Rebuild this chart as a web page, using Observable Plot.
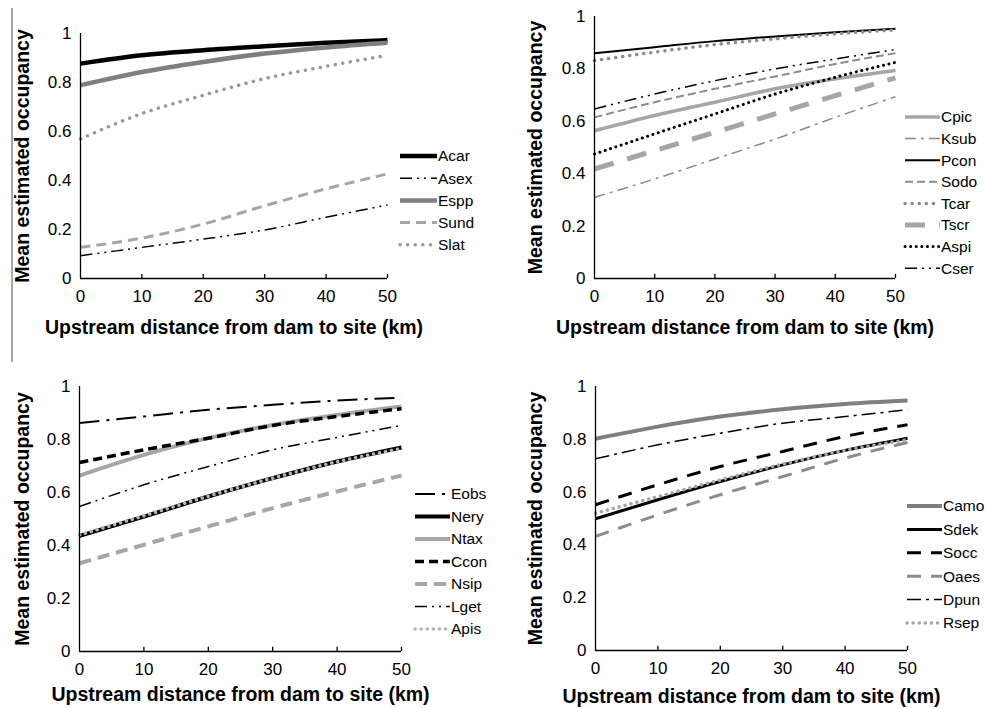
<!DOCTYPE html>
<html>
<head>
<meta charset="utf-8">
<script src="https://cdn.jsdelivr.net/npm/d3@7"></script>
<script src="https://cdn.jsdelivr.net/npm/@observablehq/plot@0.6"></script>
<style>
  html, body { margin: 0; padding: 0; background: #fff; }
  #root { position: relative; width: 986px; height: 708px; background: #fff; overflow: hidden; }
  .panel { position: absolute; }
  #overlay { position: absolute; left: 0; top: 0; pointer-events: none; }
</style>
</head>
<body>
<div id="root"></div>
<script>
// ---------- DATA ----------
const distance = [0, 10, 20, 30, 40, 50];
const xTicks = [0, 10, 20, 30, 40, 50];
const yTicks = [0, 0.2, 0.4, 0.6, 0.8, 1];
const xTitle = "Upstream distance from dam to site (km)";
const yTitle = "Mean estimated occupancy";

const panel1Species = ["Acar", "Asex", "Espp", "Sund", "Slat"];
const panel1Occupancy = [
  [0.877, 0.911, 0.932, 0.948, 0.962, 0.973],
  [0.093, 0.127, 0.161, 0.198, 0.250, 0.300],
  [0.789, 0.843, 0.884, 0.918, 0.943, 0.962],
  [0.127, 0.165, 0.222, 0.297, 0.366, 0.427],
  [0.570, 0.673, 0.748, 0.816, 0.866, 0.911]
];

const panel2Species = ["Cpic", "Ksub", "Pcon", "Sodo", "Tcar", "Tscr", "Aspi", "Cser"];
const panel2Occupancy = [
  [0.564, 0.622, 0.673, 0.724, 0.762, 0.794],
  [0.310, 0.380, 0.456, 0.532, 0.615, 0.694],
  [0.860, 0.883, 0.906, 0.924, 0.940, 0.953],
  [0.615, 0.673, 0.724, 0.771, 0.819, 0.860],
  [0.832, 0.864, 0.893, 0.915, 0.934, 0.949],
  [0.418, 0.488, 0.558, 0.628, 0.698, 0.766],
  [0.475, 0.552, 0.628, 0.704, 0.768, 0.825],
  [0.647, 0.704, 0.755, 0.800, 0.838, 0.874]
];

const panel3Species = ["Eobs", "Nery", "Ntax", "Ccon", "Nsip", "Lget", "Apis"];
const panel3Occupancy = [
  [0.862, 0.887, 0.912, 0.931, 0.947, 0.958],
  [0.436, 0.509, 0.585, 0.654, 0.717, 0.770],
  [0.664, 0.742, 0.805, 0.855, 0.893, 0.925],
  [0.713, 0.761, 0.805, 0.853, 0.887, 0.916],
  [0.333, 0.403, 0.472, 0.541, 0.604, 0.664],
  [0.547, 0.629, 0.698, 0.761, 0.808, 0.853],
  [0.440, 0.512, 0.586, 0.654, 0.716, 0.766]
];

const panel4Species = ["Camo", "Sdek", "Socc", "Oaes", "Dpun", "Rsep"];
const panel4Occupancy = [
  [0.802, 0.848, 0.886, 0.914, 0.934, 0.947],
  [0.499, 0.571, 0.640, 0.703, 0.758, 0.804],
  [0.552, 0.628, 0.697, 0.754, 0.811, 0.855],
  [0.432, 0.514, 0.590, 0.659, 0.729, 0.788],
  [0.726, 0.779, 0.823, 0.861, 0.886, 0.912],
  [0.520, 0.583, 0.646, 0.706, 0.758, 0.798]
];

// ---------- STYLES ----------
const BLACK = "#000", DARK = "#7f7f7f", MID = "#8c8c8c", LIGHT = "#a6a6a6", PALE = "#b4b4b4";
const lineStyles = {
  Acar: {stroke: BLACK, w: 4.5, dash: null},
  Asex: {stroke: BLACK, w: 1.5, dash: "12,5,2,5,2,5"},
  Espp: {stroke: DARK, w: 4.5, dash: null},
  Sund: {stroke: LIGHT, w: 3, dash: "10,6"},
  Slat: {stroke: "#9a9a9a", w: 3.5, dash: "0.1,7.5", round: true},

  Cpic: {stroke: LIGHT, w: 3.5, dash: null},
  Ksub: {stroke: MID, w: 1.5, dash: "11,5,3,5"},
  Pcon: {stroke: BLACK, w: 2, dash: null},
  Sodo: {stroke: MID, w: 2, dash: "8,4"},
  Tcar: {stroke: MID, w: 3.5, dash: "0.1,7", round: true},
  Tscr: {stroke: LIGHT, w: 5, dash: "20,14"},
  Aspi: {stroke: BLACK, w: 3, dash: "0.1,5.5", round: true},
  Cser: {stroke: BLACK, w: 1.5, dash: "12,5,2,5,2,5"},

  Eobs: {stroke: BLACK, w: 2, dash: "20,7,3,7"},
  Nery: {stroke: BLACK, w: 4, dash: null},
  Ntax: {stroke: LIGHT, w: 4, dash: null},
  Ccon: {stroke: BLACK, w: 3.5, dash: "9,5"},
  Nsip: {stroke: LIGHT, w: 4, dash: "12,7"},
  Lget: {stroke: BLACK, w: 1.5, dash: "12,5,2,5,2,5"},
  Apis: {stroke: PALE, w: 3.5, dash: "0.1,6", round: true},

  Camo: {stroke: DARK, w: 4, dash: null},
  Sdek: {stroke: BLACK, w: 3, dash: null},
  Socc: {stroke: BLACK, w: 3, dash: "14,10"},
  Oaes: {stroke: MID, w: 3, dash: "14,10"},
  Dpun: {stroke: BLACK, w: 1.5, dash: "14,5,3,5"},
  Rsep: {stroke: LIGHT, w: 3.5, dash: "0.1,6", round: true}
};

// ---------- LAYOUT ----------
const panels = [
  {species: panel1Species, values: panel1Occupancy, left: 0, top: 0,
   m: {left: 80, right: 106, top: 33, bottom: 76}, yTitleDx: -58, xTitleDy: 49,
   legend: {x: 400, y: 156, step: 22.2, len: 37}},
  {species: panel2Species, values: panel2Occupancy, left: 493, top: 0,
   m: {left: 101, right: 91, top: 16, bottom: 76}, yTitleDx: -59, xTitleDy: 49,
   legend: {x: 905, y: 117, step: 21.6, len: 35}},
  {species: panel3Species, values: panel3Occupancy, left: 0, top: 354,
   m: {left: 79, right: 92, top: 32, bottom: 57}, yTitleDx: -57, xTitleDy: 43,
   legend: {x: 415, y: 494, step: 22.5, len: 35}},
  {species: panel4Species, values: panel4Occupancy, left: 493, top: 354,
   m: {left: 102, right: 79, top: 32, bottom: 58}, yTitleDx: -60, xTitleDy: 46,
   legend: {x: 907, y: 506, step: 23.4, len: 35}}
];

const FONT = "'Liberation Sans', Arial, Helvetica, sans-serif";
const root = document.getElementById("root");

for (const p of panels) {
  const lineMarks = p.species.map((name, i) => {
    const s = lineStyles[name];
    const rows = distance.map((d, j) => ({x: d, y: p.values[i][j]}));
    return Plot.line(rows, {
      x: "x", y: "y", curve: "monotone-x",
      stroke: s.stroke, strokeWidth: s.w,
      strokeDasharray: s.dash || undefined,
      strokeLinecap: s.round ? "round" : "butt"
    });
  });
  const chart = Plot.plot({
    width: 493, height: 354,
    marginLeft: p.m.left, marginRight: p.m.right, marginTop: p.m.top, marginBottom: p.m.bottom,
    x: {domain: [0, 50]},
    y: {domain: [0, 1]},
    style: {fontFamily: FONT, fontSize: "17px", color: "#000", background: "transparent", overflow: "visible"},
    marks: [
      Plot.axisY({ticks: yTicks, tickSize: 0, tickPadding: 9, tickFormat: d => String(d), label: null, fontSize: 17}),
      Plot.axisX({ticks: xTicks, tickSize: 0, tickPadding: 11, tickFormat: d => String(d), label: null, fontSize: 17}),
      ...lineMarks,
      Plot.ruleX([0], {stroke: "#000", strokeWidth: 1.3}),
      Plot.ruleY([0], {stroke: "#000", strokeWidth: 1.3}),
      Plot.ruleX(xTicks.filter(d => d > 0), {x: d => d, y1: 0, y2: 0.016, stroke: "#000", strokeWidth: 1.3}),
      Plot.text([yTitle], {frameAnchor: "left", dx: p.yTitleDx, rotate: -90, text: d => d,
        textAnchor: "middle", lineAnchor: "middle",
        fontWeight: "bold", fontSize: 19.5, fill: "#000"}),
      Plot.text([xTitle], {frameAnchor: "bottom", dy: p.xTitleDy, text: d => d,
        textAnchor: "middle", lineAnchor: "middle",
        fontWeight: "bold", fontSize: 19.5, fill: "#000"})
    ]
  });
  chart.classList.add("panel");
  chart.style.left = p.left + "px";
  chart.style.top = p.top + "px";
  root.appendChild(chart);
}

// ---------- LEGENDS & SEPARATOR ----------
const overlay = d3.select(root).append("svg")
  .attr("id", "overlay").attr("width", 986).attr("height", 708);

overlay.append("line")
  .attr("x1", 12).attr("x2", 12).attr("y1", 8).attr("y2", 362)
  .attr("stroke", "#8a8a8a").attr("stroke-width", 1.5);

for (const p of panels) {
  const L = p.legend;
  p.species.forEach((name, i) => {
    const s = lineStyles[name];
    const y = L.y + i * L.step;
    overlay.append("line")
      .attr("x1", L.x).attr("x2", L.x + L.len).attr("y1", y).attr("y2", y)
      .attr("stroke", s.stroke).attr("stroke-width", s.w)
      .attr("stroke-dasharray", s.dash)
      .attr("stroke-linecap", s.round ? "round" : "butt");
    overlay.append("text")
      .attr("x", L.x + L.len + 1).attr("y", y)
      .attr("dy", "0.35em")
      .attr("font-family", FONT).attr("font-size", 15.5)
      .attr("fill", "#000")
      .text(name);
  });
}
</script>
</body>
</html>
